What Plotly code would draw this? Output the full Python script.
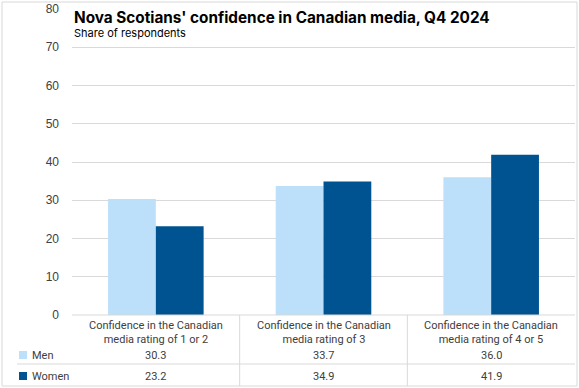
import plotly.graph_objects as go

categories = ["Confidence in the Canadian<br>media rating of 1 or 2",
              "Confidence in the Canadian<br>media rating of 3",
              "Confidence in the Canadian<br>media rating of 4 or 5"]
series_names = ["Men", "Women"]
men = [30.3, 33.7, 36.0]
women = [23.2, 34.9, 41.9]
colors = ["#BDE0FA", "#005391"]
y_ticks = [0, 10, 20, 30, 40, 50, 60, 70, 80]

W, H = 579, 388
ML, MR, MT, MB = 72, 4, 9, 73
PW, PH = W - ML - MR, H - MT - MB

def px_x(px):
    return (px - ML) / PW

def px_y(py):
    return (H - MB - py) / PH

xs = list(range(len(categories)))
fig = go.Figure()
for name, vals, c in zip(series_names, [men, women], colors):
    fig.add_trace(go.Bar(x=xs, y=vals, name=name, marker_color=c,
                         marker_line_width=0, hoverinfo="y"))

fig.update_layout(
    width=W, height=H, margin=dict(l=ML, r=MR, t=MT, b=MB, autoexpand=False),
    paper_bgcolor="white", plot_bgcolor="white",
    barmode="group", bargap=0.43, bargroupgap=0,
    showlegend=False,
    font=dict(family="Roboto, Liberation Sans, Arial", color="#404040", size=12),
)
fig.update_xaxes(range=[-0.5, 2.5], showticklabels=False, showgrid=False,
                 zeroline=False, showline=False, ticks="", automargin=False)
fig.update_yaxes(range=[0, 80], tickvals=y_ticks, showgrid=True,
                 gridcolor="#D9D9D9", gridwidth=1, zeroline=False,
                 showline=False, ticks="", ticklabelstandoff=12, automargin=False,
                 tickfont=dict(family="Liberation Sans, Arial", size=12, color="#404040"))

# title and subtitle
fig.add_annotation(xref="paper", yref="paper", x=0, y=px_y(17.5), xanchor="left",
                   yanchor="middle", showarrow=False,
                   text="<b>Nova Scotians' confidence in Canadian media, Q4 2024</b>",
                   font=dict(size=15.3, color="#000000", family="Inter, Roboto, Arial"))
fig.add_annotation(xref="paper", yref="paper", x=0, y=px_y(33), xanchor="left",
                   yanchor="middle", showarrow=False, text="Share of respondents",
                   font=dict(size=11, color="#000000", family="Inter, Roboto, Arial"))

line_c = "#D9D9D9"
shapes = []
# axis baseline
shapes.append(dict(type="line", xref="paper", yref="paper", x0=0, x1=1, y0=0, y1=0,
                   line=dict(color=line_c, width=1)))
# table column separators
for b in [0.5, 1.5]:
    shapes.append(dict(type="line", xref="x", yref="paper", x0=b, x1=b,
                       y0=px_y(315), y1=px_y(386), line=dict(color=line_c, width=1)))
# row separator between series
shapes.append(dict(type="line", xref="paper", yref="paper", x0=px_x(17), x1=1,
                   y0=px_y(364), y1=px_y(364), line=dict(color=line_c, width=1)))
# outer frame
shapes.append(dict(type="rect", xref="paper", yref="paper", x0=px_x(2), x1=px_x(577),
                   y0=px_y(386), y1=px_y(2), line=dict(color=line_c, width=1),
                   fillcolor="rgba(0,0,0,0)"))
fig.update_layout(shapes=shapes)

# table header (categories)
for i, cat in enumerate(categories):
    fig.add_annotation(xref="x", yref="paper", x=i, y=px_y(332), showarrow=False,
                       text=cat, xanchor="center", yanchor="middle",
                       font=dict(size=11, color="#404040"))
# table rows
row_y = [355, 376]
for name, vals, c, ry in zip(series_names, [men, women], colors, row_y):
    shapes_key = dict(type="rect", xref="paper", yref="paper",
                      x0=px_x(19), x1=px_x(27), y0=px_y(ry + 4), y1=px_y(ry - 4),
                      fillcolor=c, line=dict(width=0))
    fig.add_shape(**shapes_key)
    fig.add_annotation(xref="paper", yref="paper", x=px_x(30), y=px_y(ry),
                       showarrow=False, text=name, xanchor="left", yanchor="middle",
                       font=dict(size=11, color="#404040"))
    for i, v in enumerate(vals):
        fig.add_annotation(xref="x", yref="paper", x=i, y=px_y(ry), showarrow=False,
                           text=f"{v:.1f}", xanchor="center", yanchor="middle",
                           font=dict(size=11, color="#404040"))

fig.write_html("out.html", config={"displayModeBar": False},
               post_script="document.body.style.margin='0';")
